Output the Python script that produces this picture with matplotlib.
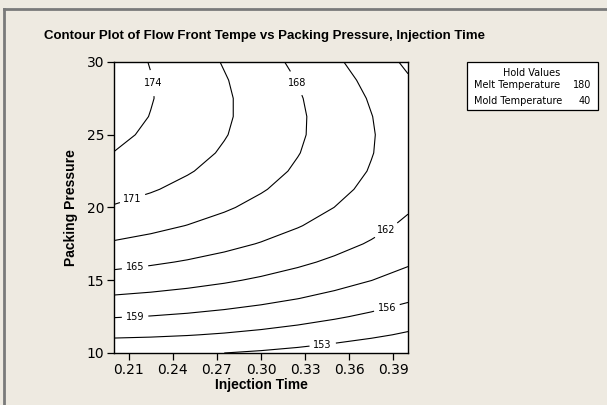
import matplotlib
matplotlib.use("Agg")
import matplotlib.pyplot as plt
from matplotlib.patches import Rectangle
from matplotlib.lines import Line2D
import numpy as np

# Stuetzstellen des Rasters
injection_time = [0.200, 0.225, 0.250, 0.275, 0.300, 0.325, 0.350, 0.375, 0.400]
packing_pressure = [10.0, 11.25, 12.5, 13.75, 15.0, 16.25, 17.5, 18.75, 20.0,
                    21.25, 22.5, 23.75, 25.0, 26.25, 27.5, 28.75, 30.0]

# Flow Front Temperature (Zeilen = Packing Pressure, Spalten = Injection Time)
flow_front_temp = [
    [153.60, 153.50, 153.30, 153.00, 152.65, 152.20, 151.65, 151.00, 150.30],
    [156.52, 156.36, 156.11, 155.77, 155.34, 154.81, 154.18, 153.47, 152.65],
    [159.15, 158.91, 158.58, 158.15, 157.63, 157.02, 156.31, 155.52, 154.62],
    [161.58, 161.26, 160.84, 160.34, 159.74, 159.04, 158.25, 157.37, 156.39],
    [163.82, 163.41, 162.92, 162.33, 161.64, 160.86, 159.99, 159.03, 157.97],
    [165.85, 165.37, 164.79, 164.12, 163.35, 162.49, 161.53, 160.48, 159.34],
    [167.70, 167.13, 166.46, 165.71, 164.86, 163.92, 162.88, 161.75, 160.52],
    [169.34, 168.69, 167.94, 167.11, 166.17, 165.15, 164.03, 162.81, 161.50],
    [170.79, 170.06, 169.23, 168.31, 167.29, 166.18, 164.98, 163.68, 162.29],
    [172.04, 171.22, 170.31, 169.31, 168.21, 167.02, 165.73, 164.35, 162.88],
    [173.10, 172.20, 171.20, 170.12, 168.93, 167.66, 166.29, 164.83, 163.27],
    [173.95, 172.97, 171.89, 170.72, 169.46, 168.10, 166.65, 165.11, 163.47],
    [174.62, 173.55, 172.39, 171.14, 169.79, 168.35, 166.82, 165.19, 163.47],
    [175.08, 173.93, 172.69, 171.35, 169.92, 168.40, 166.78, 165.07, 163.27],
    [175.35, 174.12, 172.79, 171.37, 169.86, 168.25, 166.55, 164.76, 162.87],
    [175.42, 174.10, 172.69, 171.19, 169.60, 167.91, 166.13, 164.25, 162.28],
    [175.29, 173.89, 172.40, 170.82, 169.14, 167.37, 165.50, 163.54, 161.49],
]

levels = [153, 156, 159, 162, 165, 168, 171, 174]
x_ticks = [0.21, 0.24, 0.27, 0.30, 0.33, 0.36, 0.39]
y_ticks = [10, 15, 20, 25, 30]

hold_names = ["Melt Temperature", "Mold Temperature"]
hold_values = [180, 40]

bg = "#EEEAE1"
plt.rcParams["font.family"] = ["DejaVu Sans"]

fig = plt.figure(figsize=(6.07, 4.05), dpi=100, facecolor=bg)
ax = fig.add_axes([114 / 607, 1 - 353 / 405, (408 - 114) / 607, (353 - 62) / 405])
ax.set_facecolor("white")

X, Y = np.meshgrid(injection_time, packing_pressure)
Z = np.array(flow_front_temp)
cs = ax.contour(X, Y, Z, levels=levels, colors="black", linewidths=0.8)

label_pos = [(0.342, 10.55), (0.3855, 13.16), (0.2143, 12.6), (0.3855, 18.38),
             (0.2143, 15.9), (0.3243, 28.56), (0.2129, 20.52), (0.2258, 28.56)]
lbls = ax.clabel(cs, fmt="%d", fontsize=7, inline=True, inline_spacing=4, manual=label_pos)
for t in lbls:
    t.set_rotation(0)

ax.set_xlim(0.20, 0.40)
ax.set_ylim(10, 30)
ax.set_xticks(x_ticks)
ax.set_xticklabels(["%.2f" % t for t in x_ticks])
ax.set_yticks(y_ticks)
ax.tick_params(direction="out", length=5, width=0.9, labelsize=10, pad=2)
for s in ax.spines.values():
    s.set_linewidth(1.0)

lab_font = ["Liberation Sans", "DejaVu Sans"]
ax.set_xlabel("Injection Time", fontsize=10, fontweight="bold", labelpad=1, family=lab_font)
ax.set_ylabel("Packing Pressure", fontsize=10, fontweight="bold", labelpad=6, family=lab_font)

fig.text(265 / 607, 1 - 36 / 405, "Contour Plot of Flow Front Tempe vs Packing Pressure, Injection Time",
         ha="center", va="center", fontsize=9.5, fontweight="bold", family=lab_font)

# Hold Values Kasten
fig.patches.append(Rectangle((467 / 607, 1 - 110 / 405), 131 / 607, 48 / 405,
                             transform=fig.transFigure, facecolor="white",
                             edgecolor="black", linewidth=0.9))
fig.text(532 / 607, 1 - 73 / 405, "Hold Values", ha="center", va="center", fontsize=7)
for i in range(len(hold_names)):
    yy = 1 - (85 + 16 * i) / 405
    fig.text(474 / 607, yy, hold_names[i], ha="left", va="center", fontsize=7)
    fig.text(591 / 607, yy, str(hold_values[i]), ha="right", va="center", fontsize=7)

# grauer Rahmen oben und links
fig.lines.append(Line2D([4 / 607, 1], [1 - 9 / 405, 1 - 9 / 405], transform=fig.transFigure,
                        color="#7a7a7a", linewidth=2))
fig.lines.append(Line2D([4 / 607, 4 / 607], [0, 1 - 9 / 405], transform=fig.transFigure,
                        color="#7a7a7a", linewidth=2))

plt.savefig("out.png", dpi=100, facecolor=bg)
